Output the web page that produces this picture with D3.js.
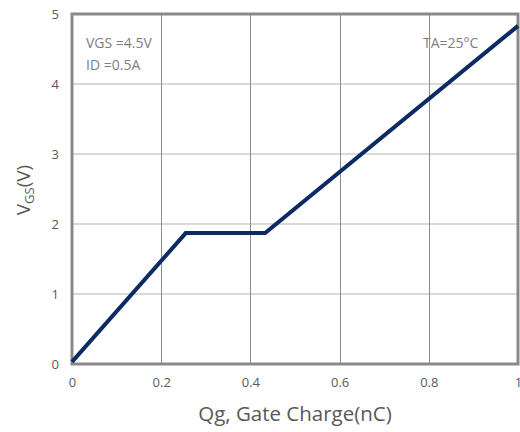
<!DOCTYPE html>
<html><head><meta charset="utf-8">
<script src="https://cdn.jsdelivr.net/npm/d3@7"></script>
<style>body{margin:0;background:#fff}svg{display:block}text{font-family:"Open Sans",sans-serif}</style>
</head><body>
<svg id="c" width="520" height="432"></svg>
<script>
const qg = [0.0, 0.255, 0.433, 1.0];
const vgs = [0.03, 1.87, 1.87, 4.83];
const xTicks = [0, 0.2, 0.4, 0.6, 0.8, 1];
const xTickLabels = ["0", "0.2", "0.4", "0.6", "0.8", "1"];
const yTicks = [0, 1, 2, 3, 4, 5];
const yTickLabels = ["0", "1", "2", "3", "4", "5"];

const svg = d3.select("#c");
const L = 72, R = 518, T = 14, B = 364;
const x = d3.scaleLinear().domain([0, 1]).range([L, R]);
const y = d3.scaleLinear().domain([0, 5]).range([B, T]);

// horizontal grid
svg.append("g").selectAll("line").data(yTicks.slice(1, -1)).join("line")
  .attr("x1", L).attr("x2", R).attr("y1", d => y(d)).attr("y2", d => y(d))
  .attr("stroke", "#d9d9d9").attr("stroke-width", 2);
// vertical grid
svg.append("g").selectAll("line").data(xTicks.slice(1, -1)).join("line")
  .attr("y1", T).attr("y2", B).attr("x1", d => Math.round(x(d)) + 0.5).attr("x2", d => Math.round(x(d)) + 0.5)
  .attr("stroke", "#8c8c8c").attr("stroke-width", 1);

// border
svg.append("rect").attr("x", L).attr("y", T).attr("width", R - L).attr("height", B - T)
  .attr("fill", "none").attr("stroke", "#898989").attr("stroke-width", 3);

// axes labels
const xAxis = d3.axisBottom(x).tickValues(xTicks).tickFormat((d, i) => xTickLabels[i]).tickSize(0).tickPadding(14);
const gx = svg.append("g").attr("transform", `translate(0,${B})`).call(xAxis);
gx.select(".domain").remove();
gx.selectAll("text").attr("font-size", 13).attr("fill", "#595959").attr("font-family", "Open Sans");

const yAxis = d3.axisLeft(y).tickValues(yTicks).tickFormat((d, i) => yTickLabels[i]).tickSize(0).tickPadding(13);
const gy = svg.append("g").attr("transform", `translate(${L},0)`).call(yAxis);
gy.select(".domain").remove();
gy.selectAll("text").attr("font-size", 13).attr("fill", "#595959").attr("font-family", "Open Sans");

// line
svg.append("path").datum(qg.map((d, i) => [d, vgs[i]]))
  .attr("d", d3.line().x(d => x(d[0])).y(d => y(d[1])))
  .attr("fill", "none").attr("stroke", "#0c2a63").attr("stroke-width", 4)
  .attr("stroke-linejoin", "miter");

// annotations
svg.append("text").attr("x", 86).attr("y", 48).attr("font-size", 14).attr("fill", "#808080").text("VGS =4.5V");
svg.append("text").attr("x", 86).attr("y", 70).attr("font-size", 14).attr("fill", "#808080").text("ID =0.5A");
svg.append("text").attr("x", 423).attr("y", 48).attr("font-size", 14).attr("fill", "#808080").text("TA=25°C");

// axis titles
svg.append("text").attr("x", 295).attr("y", 421).attr("text-anchor", "middle")
  .attr("font-size", 20.5).attr("fill", "#595959").text("Qg, Gate Charge(nC)");
const yt = svg.append("text").attr("transform", "translate(30,190) rotate(-90)").attr("text-anchor", "middle")
  .attr("font-size", 19).attr("fill", "#595959");
yt.append("tspan").text("V");
yt.append("tspan").attr("font-size", 13).attr("dy", 4).text("GS");
yt.append("tspan").attr("dy", -4).text("(V)");
</script>
</body></html>
